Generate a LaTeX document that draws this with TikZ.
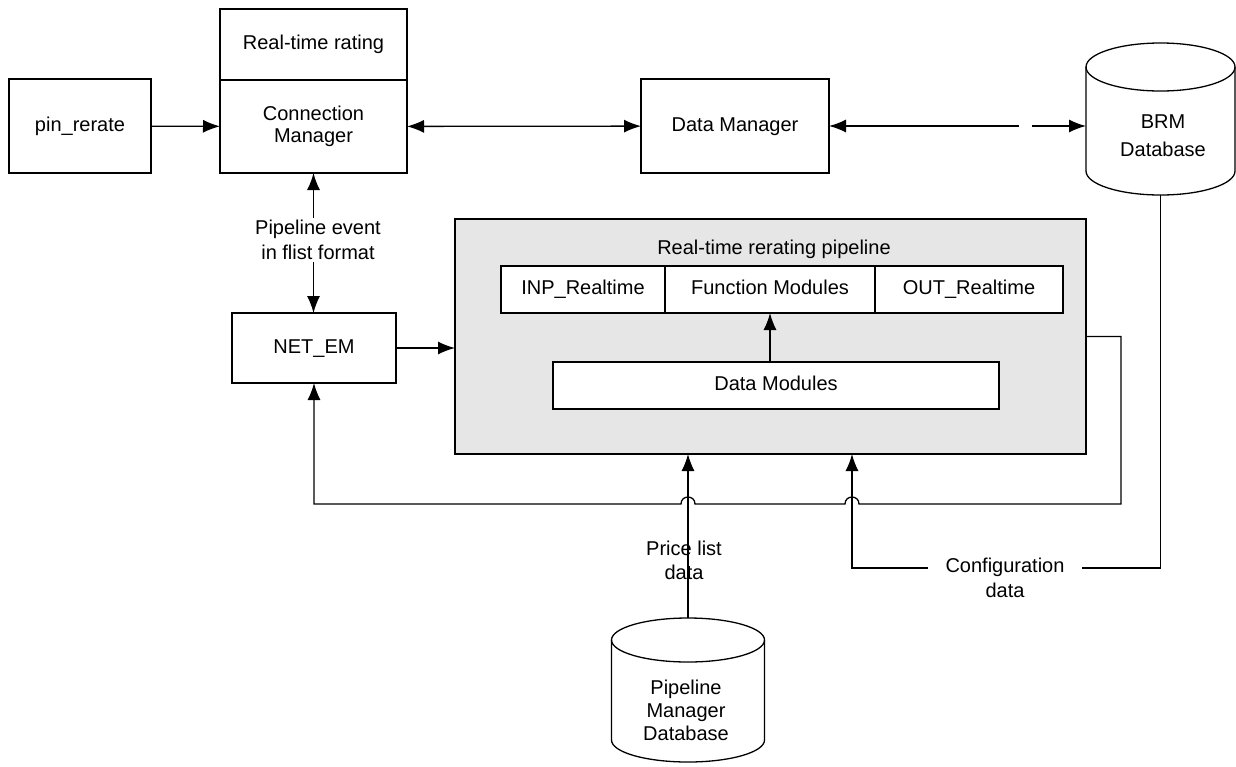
\documentclass[tikz,border=0pt]{standalone}
\usepackage{fontspec}
\setmainfont{Liberation Sans}
\usetikzlibrary{arrows.meta}
\definecolor{pipegray}{HTML}{E6E6E6}
\begin{document}
\begin{tikzpicture}[x=1pt,y=-1pt,
  every node/.style={font=\fontsize{20}{22}\selectfont, outer sep=0pt},
  box/.style={draw, line width=1.3pt, fill=white, inner sep=0pt, align=center},
  oneline/.style={text height=14.5pt, text depth=4.5pt},
  conn/.style={line width=1.3pt},
  arr/.style={conn, -{Latex[length=17pt,width=13pt]}},
  darr/.style={conn, {Latex[length=17pt,width=13pt]}-{Latex[length=17pt,width=13pt]}},
  lbl/.style={align=center, inner sep=2pt}]
\useasboundingbox (0,0) rectangle (1236,766);

% top row
\node[box, oneline, minimum width=142, minimum height=94] (pin) at (80,126) {pin\_rerate};
\node[box, oneline, minimum width=187, minimum height=71] (rtr) at (313.5,44.5) {Real-time rating};
\node[box, minimum width=187, minimum height=93] (cm) at (313.5,126.5) {Connection\\Manager};
\node[box, oneline, minimum width=188, minimum height=94] (dm) at (735,126) {Data Manager};

% BRM database cylinder
\draw[conn, fill=white] (1086,67) -- (1086,171) .. controls (1086,184.3) and (1119.4,195) .. (1160.5,195) .. controls (1201.6,195) and (1235,184.3) .. (1235,171) -- (1235,67);
\draw[conn] (1160.5,67) ellipse [x radius=74.5, y radius=24];
\node[align=center, font=\fontsize{20}{28}\selectfont] (brmt) at (1163,136) {BRM\\Database};
\coordinate (brmw) at (1086,126);
\coordinate (brmb) at (1160.5,195);

% NET_EM
\node[box, oneline, minimum width=164, minimum height=70] (net) at (314,348) {NET\_EM};

% pipeline
\node[box, fill=pipegray, minimum width=631, minimum height=235] (pipe) at (770.5,336.5) {};
\node[oneline] (ptitle) at (774,249) {Real-time rerating pipeline};
\node[box, oneline, minimum width=164, minimum height=47] (inp) at (583,289.5) {INP\_Realtime};
\node[box, oneline, minimum width=210, minimum height=47] (fm) at (770,289.5) {Function Modules};
\node[box, oneline, minimum width=188, minimum height=47] (out) at (969,289.5) {OUT\_Realtime};
\node[box, oneline, minimum width=446, minimum height=47] (dmod) at (776,385.5) {Data Modules};

% Pipeline Manager database cylinder
\draw[conn, fill=white] (611.5,640) -- (611.5,740) .. controls (611.5,752.2) and (645.75,762) .. (688,762) .. controls (730.25,762) and (764.5,752.2) .. (764.5,740) -- (764.5,640);
\draw[conn] (688,640) ellipse [x radius=76.5, y radius=22];
\node[align=center, font=\fontsize{20}{23}\selectfont] (pmdt) at (686,710) {Pipeline\\Manager\\Database};
\coordinate (pmt) at (688,618);

% connectors
\draw[arr] (pin) -- (cm);
\draw[darr] (cm) -- (dm);
\draw[darr] (dm.east) -- (brmw);
\fill[white] (1019,119) rectangle (1032,133);
\draw[darr] (cm.south) -- (cm.south |- net.north);
\node[fill=white, lbl, font=\fontsize{20}{25}\selectfont] (pev) at (318,240) {Pipeline event\\in flist format};
\draw[arr] (net.east) -- (net.east -| pipe.west);
\draw[arr] (fm.south |- dmod.north) -- (fm.south);

% return path with hop-overs
\coordinate (r1) at (1121,336.5);
\coordinate (r2) at (1121,504);
\coordinate (r3) at (314,504);
\draw[arr] (pipe.east) -- (r1) -- (r2) -- (859,504) .. controls (859,494.7) and (845,494.7) .. (845,504) -- (695,504) .. controls (695,494.7) and (681,494.7) .. (681,504) -- (r3) -- (net.south);

% price list
\node[lbl, font=\fontsize{20}{24}\selectfont] (price) at (684,560) {Price list\\data};
\draw[arr] (pmt) -- (pmt |- pipe.south);

% configuration data
\coordinate (cfgc) at (1160.5,568);
\coordinate (cfgl) at (852,568);
\draw[arr] (brmb) -- (cfgc) -- (cfgl) -- (cfgl |- pipe.south);
\node[fill=white, align=center, inner xsep=18, inner ysep=2, font=\fontsize{20}{25}\selectfont] (cfg) at (1005,578) {Configuration\\data};
\end{tikzpicture}
\end{document}
